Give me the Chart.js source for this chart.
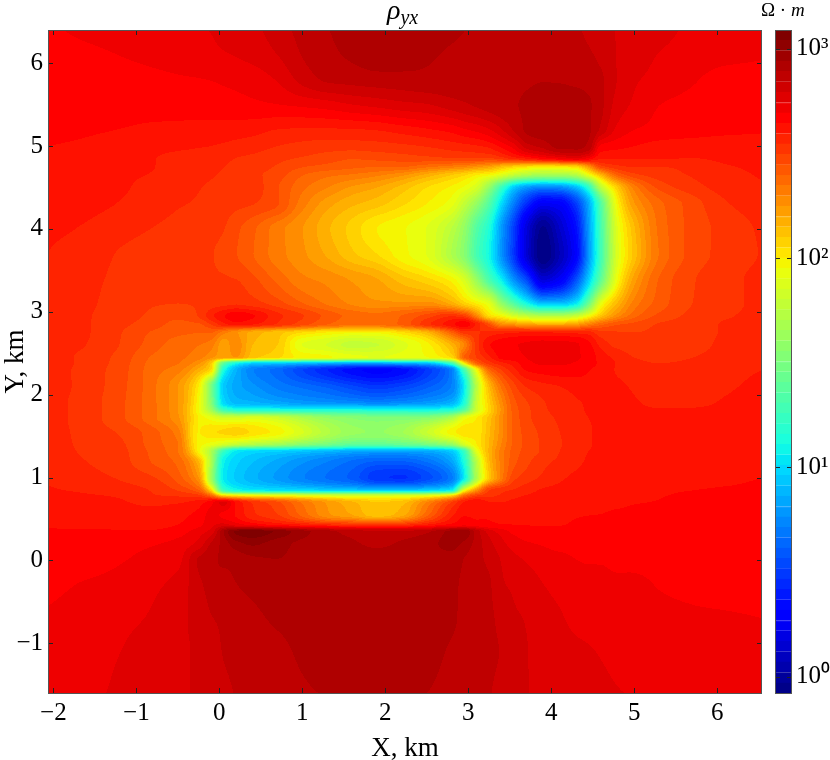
<!DOCTYPE html>
<html lang="en">
<head>
<meta charset="UTF-8">
<title>rho yx</title>
<script src="https://cdn.jsdelivr.net/npm/chart.js"></script>
<style>
    html, body { margin: 0; padding: 0; background: white; }
    #wrap { position: relative; width: 830px; height: 760px; overflow: hidden; font-family: "Liberation Serif", serif; color: black; }
    canvas { position: absolute; top: 0; }
    #grafico { left: 0; }
    #barra { left: 760px; }
    .texto { position: absolute; white-space: nowrap; }
    #titulo { left: 387px; top: -6px; font-size: 28px; font-style: italic; }
    #titulo sub { font-size: 20px; vertical-align: -5px; line-height: 0; }
    #unidad { left: 761px; top: -1px; font-size: 19px; }
</style>
</head>
<body>
<div id="wrap">
    <canvas id="grafico" width="830" height="760"></canvas>
    <canvas id="barra" width="70" height="760"></canvas>
    <div class="texto" id="titulo">ρ<sub>yx</sub></div>
    <div class="texto" id="unidad">Ω · <i>m</i></div>
</div>
<script>
// km, grid lines are denser around the conductive blocks
const xNodes = [-2.07,-1.6,-1.2,-0.8,-0.5,-0.25,-0.1,0.05,0.2,0.4,0.7,1,1.3,1.6,1.9,2.2,2.5,2.8,2.95,3.1,3.25,3.4,3.55,3.7,3.9,4.1,4.3,4.45,4.6,4.8,5,5.3,5.7,6.1,6.55];
const yNodes = [6.4,6.1,5.8,5.5,5.2,5,4.85,4.75,4.65,4.5,4.3,4,3.7,3.4,3.1,2.95,2.85,2.75,2.6,2.45,2.38,2.3,2.1,1.9,1.82,1.72,1.55,1.4,1.32,1.2,1,0.85,0.78,0.7,0.55,0.43,0.35,0.2,0,-0.3,-0.7,-1.1,-1.6];

// 100*log10(rho), one row per yNodes entry
const logRho = [
[268,271,272,273,273.5,274,274.5,275.5,276.5,278,282,286,289,291,293,293,292,290.5,289.3,288.5,288,287.5,287,287,286,285.5,284.8,283,281,279,278,276,273.5,272.5,272],
[266,268,269.5,271,272,273,273.5,274,274.6,276,279.3,284.5,288,290,292,291.5,290,288.5,288,288,288,288,288,288,288,287.5,286.5,285,283,279,276.5,274.2,272.5,271,270],
[266,266.5,267,268,268.8,269.2,269.5,270,270.5,271.5,274.8,281,285,286,287,287.5,288,288,288,288,288,288,288,288.5,289,288.8,288,287,285,279,275,273,270,267.5,267],
[265,265.5,266,266.5,267,267.3,267.5,267.8,268,268.5,269.3,270.5,272,274.3,276,277.8,279,282,283.5,285,286.5,287.8,288.8,290,292,292.5,292,290,285.5,277,273.5,269.5,268,267,266],
[266,265,264.4,263.5,263,262.5,262.3,262,261.8,261.3,259.5,259,259,259.2,260,262,264,266.5,269,271,274,279,285,290,292,293,292,290,283,273,269.5,268,267,266,265],
[264.5,263.5,262.5,261.5,260.8,260,259.5,258.8,258,257,254.6,253,252,252,252.5,253.5,255,257,258,259,261,266,272,282,286,291,291,288,268,266,264.5,262.5,261.5,261,262],
[263,262,261,259.7,257.8,256.5,255.5,255,254.5,253.5,251,249,247,245,246,247,248,249,249,249,249,252,257,260,266,270,274,268,260,260,260,259.8,259.4,260.5,262],
[262,261,260.3,259.6,257.5,256,255,254.6,254,252.5,249,245,243,241,240,240,236,232,230,226,222,214,208,204,200,202,206,225,247,253,255,254.6,256,259,260.5],
[262,261,260,259.3,257,255.5,254.8,254.2,253,251,247,240,236,234,231,226,218,210,206,200,196,188,178,170,165,165,172,192,215,240,248,252,255,258,260],
[262,261,260,258.2,256.3,254.8,254,253.5,253,252,245,236,230,224,220,213,205,199,194,185,160,125,95,80,72,75,90,120,175,210,232,246,252.5,256.5,259],
[261,260.5,259.3,257,255,254,253,252,251,249.8,245,232,222,216,212,206,200,192,178,160,135,100,70,45,25,28,50,85,135,198,224,238,247,254,257.5],
[260.5,259,256.5,254.4,253,252,251,249.8,246,241,232,225,216,208,200,196,190,175,160,135,115,80,50,18,-4,12,35,80,130,190,214,236,246.5,251.5,255.5],
[259.5,257,254.2,252.5,251.5,250.5,249.8,248.5,245,240,232,226,219,211,205,197,190,170,155,130,110,78,48,16,-8,7,30,78,128,188,212,235,246.5,251.5,255],
[259,256,253.5,252,251,250.5,250,250,249.5,246,238,231,228,224,220,212,206,197,185,160,130,105,75,52,15,25,55,95,140,195,222,240,249,253,256],
[258.5,255.5,252.5,250,249.6,250,252,253,254,252,247,240,234,229,226,226,227,218,208,200,190,160,135,112,92,92,105,145,192,216,232,242,249.6,253,256],
[258,255,252,248.5,246,250,258,264,268,265,256,250,243,238,236,240,247,254,250,230,205,197,185,178,172,172,180,195,212,228,238,246,251,254,256],
[258,255,251,247,243,244,250,258,262,260,254,247,240,236,236,241,253,263,268,258,245,228,224,220,218,218,222,230,238,244,246,250,252,255,256],
[258,255,250,244,241,240,240,232,226,218,212,205,200,197,197,204,215,240,252,254,256,258,259,260,260,259,258,257,251,250,249.6,251,253,255,257],
[258,254.5,249.5,242,237,235,232,222,228,215,210,190,185,178,180,188,198,216,230,252,264,267,269,270,271,271,270,266,258,253,252,251.5,253,255.5,257],
[257.5,253,248,239,236,232,226,222,225,212,206,198,196,192,190,192,195,206,240,250,258,266,268,269.5,271,272,270,268,262,258,254.5,253,254.5,256.5,258],
[257.5,253,247.5,238,235,226,210,140,112,98,95,92,88,85,85,88,92,130,200,240,252,258,262,268,270,270,269,267,263,259,256,254.5,255.5,257,258.5],
[257.5,252.5,247,237,232,218,205,115,88,72,64,52,42,34,30,34,48,70,130,195,238,250,258,265,267,268,267.5,265,262,259,257,255.5,256,258,259.5],
[257.5,252.5,246.5,236,225,200,150,95,84,78,70,65,60,53,48,52,60,72,105,175,214,236,248,255,258,259.5,261,262,262,260.5,259,258,258,259,260.5],
[257,252,246,236,225,196,155,100,90,88,84,80,78,76,74,76,80,88,115,180,208,228,243,249,254,257,259,260,261,261,260,258.5,258.5,260,261],
[257,252,246,236,225,195,165,125,115,112,112,112,112,112,110,110,110,115,135,182,206,226,242,248,253.5,256.5,258.5,260,261,262,261,259.8,260,261,262],
[257,252,246,236,226,200,192,185,185,188,182,170,160,155,152,152,155,170,192,200,212,228,241,248,252.5,255.5,258,259.5,260.5,261,262,262,262,262,262],
[257.5,252.5,249,241.5,232,200,204,206,208,204,198,186,172,162,160,165,180,198,203,202,214,228,241,246.5,251,254.5,257.5,259,260.5,261.5,262,262,262,262,262],
[258,253,250.5,242,235,198,192,185,178,172,165,155,148,140,140,142,148,160,185,200,215,230,241,246,250.5,254,257.5,259,260.5,261.5,262,262.5,262.5,262.5,262.5],
[258,253.5,251,243,235,198,170,125,105,100,98,94,90,86,84,84,86,96,125,190,216,232,242,246.5,250.5,254.5,258,259.5,260.5,261.5,262,262.5,262.5,262.5,262.5],
[258.5,254.5,251.5,244,238,215,170,108,98,92,85,78,72,66,62,62,68,84,115,175,214,232,243,248,253,255.5,258.5,260,261,262,262,262,262,262,262],
[259,256.5,254,250,242,225,165,105,95,88,80,72,66,60,48,46,54,70,105,170,210,232,248,252,255.5,258.5,260.5,261,262,262.5,263,263,263,263,264.5],
[260,258.7,257,254,249,240,205,125,110,104,102,100,96,94,92,92,96,105,190,225,249,253,255,257.5,260,261,262,262.5,263,263,263.5,264,264.4,265,266],
[261,260,259,255,254,252,240,210,204,200,196,192,188,186,186,188,192,208,238,250,253,255.5,258,259.8,261,262,262.5,263,263.5,263.8,264,264.3,265,265.5,266],
[261.5,261,260,258.5,259,262,268,276,264,254,246,234,224,216,210,213,230,250,260,264,260,259.5,261,262,262.5,263,263.5,263.5,264,264,264.3,264.6,265.5,266,266.5],
[262.5,261,261,261,263,266,271,268,264,256,250,238,226,220,212,218,238,258,264,264,264,263.5,263,263,263.5,264,264.3,264.4,264.5,265,265.5,266,266.5,267,267],
[264,263,263,263,264.5,268,273,276,272,268,263,260,256,254,252,254,260,266,268,266,265,264.6,264.5,264.3,264.2,264.3,264.8,265,265.5,266,266,266.5,266.5,266.5,266.5],
[265,265,265,265,267,272,276,294,305,307,303,296,291,287,285,285,288,296,298,287,277,272,268,267,267,267,267,267,267,267,267,267,267,267,267],
[267,267,268,269,271,276,285,291,297,300,296,293,291,290,288,290,292,296,293,287,281,276,272,270,269,268,268,268,268,268,267,267,267,267,267],
[266,267,269,271,273,285,288,290,291,293,294,293,292,292,292,292,292,291,289,286,283,279,276,274,272,271,269.5,269,269,268,268,268,267,267,267],
[268,270,271.5,273.5,276,283,286,287,289,290.5,292,292.5,293,293,293,293,292,290,288.5,287,285,280,278.5,277,274.5,273,272,272,271.5,271,270.5,269.2,268.5,268,267.5],
[270,271.5,273,275,278,281,284,285,286.5,288,290,291,292,293,293,293,292,290,288,286,285,283,280,279,276.5,275,273,272.5,272,271.5,271,270.5,270,269.8,269.4],
[271,273,274.3,277,278.5,280,282,284.5,285.5,286.5,288,290,291.5,292,293,293,291,288.5,287,286,285,284,281.5,279.5,278,277,275.5,274.8,274,273,272.5,272,271.5,271,270.5],
[272,273.5,275,277,278.5,280,281.5,283,284.5,285.5,287,288.5,289.5,290,290,290,289.2,287.5,286.5,285.5,284.5,283,281,279.5,278.5,277.5,276.5,276,275.5,274.6,274,273,272.5,272,271.5]
];

const xTicks = [-2,-1,0,1,2,3,4,5,6];
const yTicks = [-1,0,1,2,3,4,5,6];
const barraTicks = [0,1,2,3];
const barraEtiquetas = ['10⁰','10¹','10²','10³'];

const nNiveles = 64;
const logMin = -7.8;
const logMax = 309;
const paso = (logMax - logMin) / nNiveles;

// jet-like colormap
const rojoT = [0,0.35,0.66,0.867,0.992,1];
const rojoV = [0,0,1,1,0.5,0.5];
const verdeT = [0,0.125,0.375,0.64,0.867,1];
const verdeV = [0,0,1,1,0,0];
const azulT = [0,0.11,0.34,0.65,1];
const azulV = [0.5,1,1,0,0];

function tramo(ts, vs, t) {
    for (let i = 1; i < ts.length; i++) {
        if (t <= ts[i]) return vs[i-1] + (vs[i]-vs[i-1]) * (t-ts[i-1]) / (ts[i]-ts[i-1]);
    }
    return vs[vs.length-1];
}

const paleta = [];
for (let i = 0; i < nNiveles; i++) {
    const t = (i + 0.5) / nNiveles;
    paleta.push([tramo(rojoT,rojoV,t), tramo(verdeT,verdeV,t), tramo(azulT,azulV,t)].map(c => Math.round(c*255)));
}

// monotone cubic, so the contours do not kink at grid lines and do not overshoot
function pendientes(t, v) {
    const n = t.length, h = [], d = [], m = new Array(n);
    for (let i = 0; i < n-1; i++) { h.push(t[i+1]-t[i]); d.push((v[i+1]-v[i])/h[i]); }
    m[0] = d[0];
    m[n-1] = d[n-2];
    for (let i = 1; i < n-1; i++) {
        if (d[i-1]*d[i] <= 0) { m[i] = 0; continue; }
        const w1 = 2*h[i]+h[i-1], w2 = h[i]+2*h[i-1];
        m[i] = (w1+w2) / (w1/d[i-1] + w2/d[i]);
    }
    return m;
}

function hermite(a, b, ma, mb, h, f) {
    const f2 = f*f, f3 = f2*f;
    return (2*f3-3*f2+1)*a + (f3-2*f2+f)*h*ma + (-2*f3+3*f2)*b + (f3-f2)*h*mb;
}

function tramoNodo(t, v) {
    let i = 0;
    while (i < t.length-2 && v > t[i+1]) i++;
    return [i, Math.max(0, Math.min(1, (v-t[i])/(t[i+1]-t[i])))];
}

// filled contours: every pixel goes through the scales, then into a level band
const rellenoContorno = {
    id: 'rellenoContorno',
    beforeDatasetsDraw(chart) {
        const {ctx, chartArea, scales} = chart;
        const w = chartArea.right - chartArea.left;
        const h = chartArea.bottom - chartArea.top;
        const img = ctx.createImageData(w, h);
        const xPix = [];
        for (let i = 0; i < w; i++) xPix.push(tramoNodo(xNodes, scales.x.getValueForPixel(chartArea.left + i + 0.5)));
        const yUp = yNodes.map(y => -y);
        const yPix = [];
        for (let j = 0; j < h; j++) yPix.push(tramoNodo(yUp, -scales.y.getValueForPixel(chartArea.top + j + 0.5)));
        const filas = logRho.map(fila => {
            const m = pendientes(xNodes, fila);
            return xPix.map(([ix, fx]) => hermite(fila[ix], fila[ix+1], m[ix], m[ix+1], xNodes[ix+1]-xNodes[ix], fx));
        });
        for (let i = 0; i < w; i++) {
            const col = filas.map(f => f[i]);
            const m = pendientes(yUp, col);
            for (let j = 0; j < h; j++) {
                const [iy, fy] = yPix[j];
                const v = hermite(col[iy], col[iy+1], m[iy], m[iy+1], yUp[iy+1]-yUp[iy], fy);
                const n = Math.max(0, Math.min(nNiveles-1, Math.floor((v-logMin)/paso)));
                const c = paleta[n];
                const k = (j*w + i) * 4;
                img.data[k] = c[0]; img.data[k+1] = c[1]; img.data[k+2] = c[2]; img.data[k+3] = 255;
            }
        }
        ctx.putImageData(img, chartArea.left, chartArea.top);
    }
};

// matplotlib style frame with inward ticks
const marcoTicks = {
    id: 'marcoTicks',
    afterDraw(chart) {
        const {ctx, chartArea: a, scales} = chart;
        ctx.save();
        ctx.strokeStyle = '#222';
        ctx.lineWidth = 1;
        ctx.beginPath();
        const largo = 5;
        if (scales.x.options.display) {
            scales.x.ticks.forEach(t => {
                const p = Math.round(scales.x.getPixelForValue(t.value)) + 0.5;
                ctx.moveTo(p, a.bottom); ctx.lineTo(p, a.bottom - largo);
                ctx.moveTo(p, a.top); ctx.lineTo(p, a.top + largo);
            });
        }
        scales.y.ticks.forEach(t => {
            const p = Math.round(scales.y.getPixelForValue(t.value)) + 0.5;
            ctx.moveTo(a.left, p); ctx.lineTo(a.left + largo, p);
            ctx.moveTo(a.right, p); ctx.lineTo(a.right - largo, p);
        });
        ctx.stroke();
        ctx.strokeStyle = '#555';
        ctx.strokeRect(a.left + 0.5, a.top + 0.5, a.right - a.left - 1, a.bottom - a.top);
        ctx.restore();
    }
};

const puntos = [];
yNodes.forEach((y, j) => xNodes.forEach((x, i) => puntos.push({x: x, y: y, v: logRho[j][i]})));

const fuenteTicks = {family: '"Liberation Serif"', size: 25};
const fuenteTitulo = {family: '"Liberation Serif"', size: 27};
const signo = v => String(v).replace('-', '\u2212');

new Chart(document.getElementById('grafico'), {
    type: 'scatter',
    data: {datasets: [{label: 'rho_yx', data: puntos, pointRadius: 0, showLine: false}]},
    plugins: [rellenoContorno, marcoTicks],
    options: {
        responsive: false,
        animation: false,
        layout: {padding: {top: 30, right: 68, left: 0, bottom: 0}},
        plugins: {legend: {display: false}, tooltip: {enabled: false}},
        scales: {
            x: {
                type: 'linear', min: -2.065, max: 6.54,
                afterBuildTicks: s => { s.ticks = xTicks.map(v => ({value: v})); },
                afterFit: s => { s.height = 67; },
                grid: {display: false, drawTicks: false}, border: {display: false},
                ticks: {font: fuenteTicks, color: '#000', padding: 5, maxRotation: 0, autoSkip: false, callback: signo},
                title: {display: true, text: 'X, km', color: '#000', font: fuenteTitulo, padding: {top: 0, bottom: -5}}
            },
            y: {
                type: 'linear', min: -1.6, max: 6.4,
                afterBuildTicks: s => { s.ticks = yTicks.map(v => ({value: v})); },
                afterFit: s => { s.width = 48; },
                grid: {display: false, drawTicks: false}, border: {display: false},
                ticks: {font: fuenteTicks, color: '#000', padding: 5, autoSkip: false, callback: signo},
                title: {display: true, text: 'Y, km', color: '#000', font: fuenteTitulo, padding: {top: 0, bottom: -7}}
            }
        }
    }
});

// colorbar
const bandas = paleta.map((c, i) => ({
    data: [[(logMin + paso*i)/100, (logMin + paso*(i+1))/100]],
    backgroundColor: `rgb(${c[0]},${c[1]},${c[2]})`,
    borderColor: `rgb(${c[0]},${c[1]},${c[2]})`,
    borderWidth: 1,
    barPercentage: 1,
    categoryPercentage: 1,
    grouped: false
}));

new Chart(document.getElementById('barra'), {
    type: 'bar',
    data: {labels: ['rho'], datasets: bandas},
    plugins: [marcoTicks],
    options: {
        responsive: false,
        animation: false,
        layout: {padding: {top: 30, left: 15, right: 0, bottom: 67}},
        plugins: {legend: {display: false}, tooltip: {enabled: false}},
        scales: {
            x: {display: false},
            y: {
                position: 'right', min: logMin/100, max: logMax/100,
                afterBuildTicks: s => { s.ticks = barraTicks.map(v => ({value: v})); },
                afterFit: s => { s.width = 38; },
                grid: {display: false, drawTicks: false}, border: {display: false},
                ticks: {font: fuenteTicks, color: '#000', padding: 4, autoSkip: false, callback: (v) => barraEtiquetas[v]}
            }
        }
    }
});
</script>
</body>
</html>
